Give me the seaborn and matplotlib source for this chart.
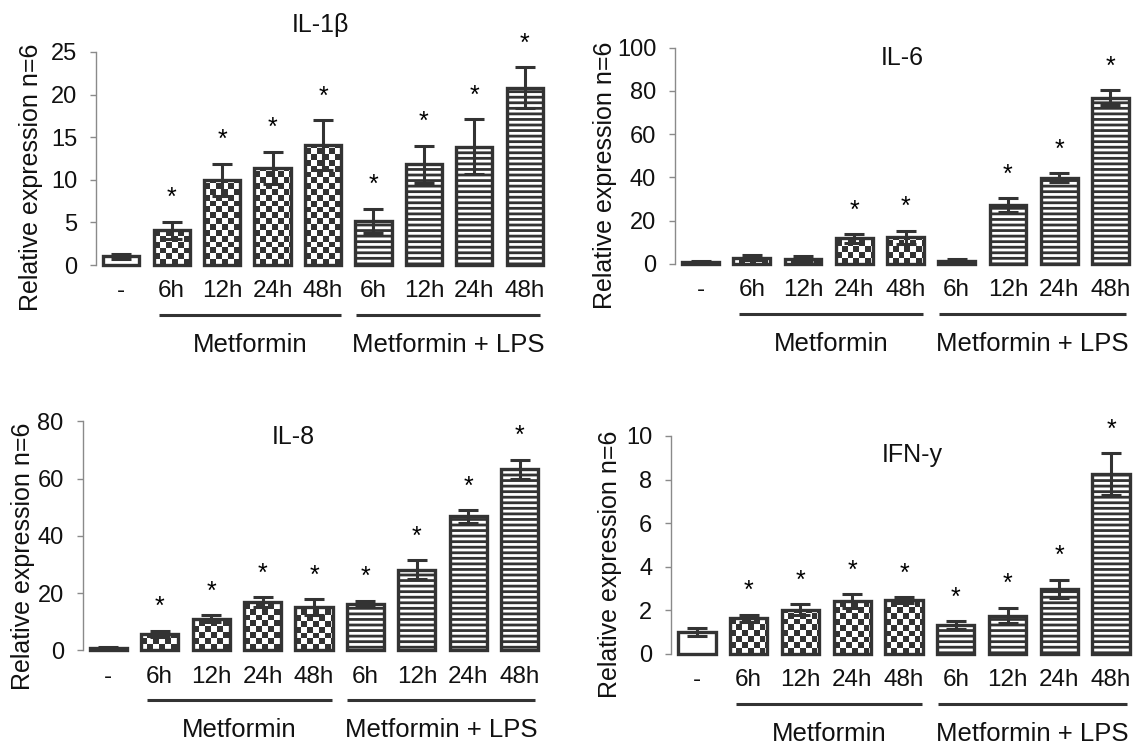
import numpy as np
import pandas as pd
import matplotlib
matplotlib.use("Agg")
import matplotlib.pyplot as plt
import matplotlib.transforms as mtrans
from matplotlib.colors import ListedColormap
import seaborn as sns

# ---------------- data ----------------
conditions = ["Control", "Met 6h", "Met 12h", "Met 24h", "Met 48h",
              "Met+LPS 6h", "Met+LPS 12h", "Met+LPS 24h", "Met+LPS 48h"]
tick_labels = ["-", "6h", "12h", "24h", "48h", "6h", "12h", "24h", "48h"]
treatment = ["control", "metformin", "metformin", "metformin", "metformin",
             "lps", "lps", "lps", "lps"]
group_names = ["Metformin", "Metformin + LPS"]

titles = ["IL-1\u03b2", "IL-6", "IL-8", "IFN-y"]
ymax_list = [25, 100, 80, 10]
ystep_list = [5, 20, 20, 2]

il1b_mean = [1.0, 4.1, 10.0, 11.4, 14.1, 5.2, 11.8, 13.9, 20.8]
il1b_err = [0.3, 1.0, 1.9, 1.9, 2.9, 1.4, 2.2, 3.2, 2.4]
il1b_sig = [0, 1, 1, 1, 1, 1, 1, 1, 1]

il6_mean = [1.0, 3.0, 2.5, 11.8, 12.3, 1.5, 27.2, 39.9, 76.9]
il6_err = [0.5, 1.0, 1.0, 2.0, 3.0, 0.8, 3.2, 2.0, 3.4]
il6_sig = [0, 0, 0, 1, 1, 0, 1, 1, 1]

il8_mean = [0.8, 5.8, 11.0, 16.8, 15.0, 16.3, 28.2, 46.8, 63.2]
il8_err = [0.4, 1.0, 1.2, 1.8, 2.8, 1.0, 3.2, 2.2, 3.3]
il8_sig = [0, 1, 1, 1, 1, 1, 1, 1, 1]

ifn_mean = [1.0, 1.62, 2.03, 2.42, 2.46, 1.3, 1.75, 2.98, 8.25]
ifn_err = [0.18, 0.17, 0.23, 0.32, 0.14, 0.18, 0.36, 0.42, 0.95]
ifn_sig = [0, 1, 1, 1, 1, 1, 1, 1, 1]

means = [il1b_mean, il6_mean, il8_mean, ifn_mean]
errs = [il1b_err, il6_err, il8_err, ifn_err]
sigs = [il1b_sig, il6_sig, il8_sig, ifn_sig]

# ---------------- style ----------------
sns.set_style("ticks")
plt.rcParams["font.family"] = ["Liberation Sans", "DejaVu Sans"]
plt.rcParams["hatch.linewidth"] = 2.0
plt.rcParams["hatch.color"] = "#333333"

DARK = "#333333"
TXT = "#111111"
W, H = 1134, 744
fig = plt.figure(figsize=(W / 100, H / 100), dpi=100)

# layout in pixels: left, top, right, bottom of plotting area
layouts = [
    dict(box=(96, 52, 550, 265), ylab_dx=65, title_x=3.94, title_dy=-27),
    dict(box=(675, 47.7, 1136, 264), ylab_dx=70, title_x=3.93, title_dy=10),
    dict(box=(82.5, 421.3, 545.5, 650.3), ylab_dx=59, title_x=3.59, title_dy=16),
    dict(box=(671, 436, 1137, 653.7), ylab_dx=61, title_x=4.16, title_dy=19),
]


def add_checker(ax, patch, sq_px=5.8):
    x0 = patch.get_x()
    w = patch.get_width()
    h = patch.get_height()
    p0 = ax.transData.transform((x0, 0))
    p1 = ax.transData.transform((x0 + w, h))
    wpx, hpx = p1[0] - p0[0], p1[1] - p0[1]
    nx = max(1, int(np.ceil(wpx / sq_px)))
    ny = max(1, int(np.ceil(hpx / sq_px)))
    arr = np.add.outer(np.arange(ny), np.arange(nx)) % 2
    dx = w / wpx * sq_px
    dy = h / hpx * sq_px
    im = ax.imshow(arr, cmap=ListedColormap(["white", DARK]),
                   extent=(x0, x0 + nx * dx, 0, ny * dy), origin="lower",
                   interpolation="nearest", aspect="auto",
                   zorder=patch.get_zorder() - 0.05)
    im.set_clip_path(patch)


for k in range(4):
    L = layouts[k]
    l, t, r, b = L["box"]
    ax = fig.add_axes([l / W, 1 - b / H, (r - l) / W, (b - t) / H])
    df = pd.DataFrame({"condition": conditions, "value": means[k],
                       "treatment": treatment})
    sns.barplot(data=df, x="condition", y="value", order=conditions,
                color="white", width=0.72, edgecolor=DARK, linewidth=2.4,
                errorbar=None, saturation=1, ax=ax)
    ymax = ymax_list[k]
    ax.set_xlim(-0.5, 8.5)
    ax.set_ylim(0, ymax)

    patches = list(ax.patches)
    for p, tr in zip(patches, treatment):
        p.set_clip_on(False)
        p.set_zorder(2)
        if tr == "lps":
            p.set_hatch("---")
        elif tr == "metformin":
            p.set_facecolor("none")
    for p, tr in zip(patches, treatment):
        if tr == "metformin":
            add_checker(ax, p)

    xs = np.arange(len(conditions))
    ax.errorbar(xs, means[k], yerr=errs[k], fmt="none", ecolor=DARK,
                elinewidth=2.2, capsize=7, capthick=2.2, zorder=3,
                clip_on=False)
    for i in range(len(conditions)):
        if sigs[k][i]:
            ax.annotate("*", xy=(i, means[k][i] + errs[k][i]),
                        xytext=(0, 17), textcoords="offset points",
                        ha="center", va="center", fontsize=18,
                        color="black", annotation_clip=False)

    # axes styling
    sns.despine(ax=ax, bottom=True)
    ax.spines["left"].set_color("#8a8a8a")
    ax.spines["left"].set_linewidth(1.0)
    ax.set_yticks(np.arange(0, ymax + 0.001, ystep_list[k]))
    ax.tick_params(axis="y", length=4.5, width=1.0, color="#8a8a8a",
                   labelsize=17, pad=9, labelcolor=TXT)
    ax.set_xticks(xs)
    ax.set_xticklabels(tick_labels)
    ax.tick_params(axis="x", length=0, labelsize=17.5, pad=11,
                   labelcolor=TXT)
    ax.set_xlabel("")
    ax.set_ylabel("")
    ax.set_facecolor("none")

    # y label
    ytr = mtrans.offset_copy(ax.transAxes, fig=fig, x=-L["ylab_dx"], y=0,
                             units="dots")
    ax.text(0, 0.41, "Relative expression n=6", transform=ytr, rotation=90,
            ha="center", va="center", fontsize=18, color=TXT)

    # title
    bt = mtrans.blended_transform_factory(ax.transData, ax.transAxes)
    ttr = bt + mtrans.ScaledTranslation(0, -L["title_dy"] / 100,
                                        fig.dpi_scale_trans)
    ax.text(L["title_x"], 1.0, titles[k], transform=ttr, ha="center",
            va="center", fontsize=18, color=TXT)

    # group lines and labels
    line_tr = bt + mtrans.ScaledTranslation(0, -50 / 100, fig.dpi_scale_trans)
    lab_tr = bt + mtrans.ScaledTranslation(0, -80 / 100, fig.dpi_scale_trans)
    spans = [(0.75, 4.35), (4.65, 8.3)]
    for (x0, x1), name in zip(spans, group_names):
        ax.plot([x0, x1], [0, 0], transform=line_tr, color=DARK, lw=2.2,
                clip_on=False, solid_capstyle="butt")
        ax.text((x0 + x1) / 2, 0, name, transform=lab_tr, ha="center",
                va="center", fontsize=18.5, color=TXT)

fig.savefig("out.png", dpi=100)
